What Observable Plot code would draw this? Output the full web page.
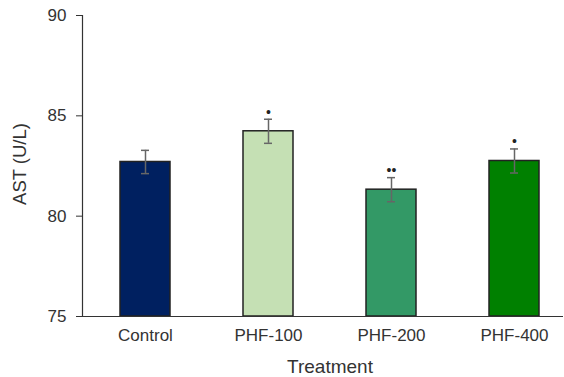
<!DOCTYPE html>
<html>
<head>
<meta charset="utf-8">
<script src="https://cdn.jsdelivr.net/npm/d3@7"></script>
<script src="https://cdn.jsdelivr.net/npm/@observablehq/plot@0.6"></script>
<style>
  html, body { margin: 0; padding: 0; background: #fff; }
  svg { font-family: "Liberation Sans", Arial, sans-serif; }
</style>
</head>
<body>
<div id="chart"></div>
<script>
const categories = ["Control", "PHF-100", "PHF-200", "PHF-400"];
const means = [82.7, 84.23, 81.32, 82.75];
const errors = [0.58, 0.6, 0.6, 0.6];
const significance = ["", "•", "••", "•"];
const colors = ["#002060", "#C5E0B4", "#339966", "#008000"];
const yTicks = [75, 80, 85, 90];

const data = categories.map((c, i) => ({
  cat: c, mean: means[i], err: errors[i], sig: significance[i], color: colors[i]
}));

const chart = Plot.plot({
  width: 564,
  height: 377,
  marginLeft: 82,
  marginRight: 1,
  marginTop: 15,
  marginBottom: 61,
  style: { fontFamily: "'Liberation Sans', Arial, sans-serif", color: "#333", background: "#fff" },
  x: { domain: categories, paddingInner: 0.5945, paddingOuter: 0.2476, align: 0.606, label: null },
  y: { domain: [75, 90], label: null },
  marks: [
    Plot.barY(data, { x: "cat", y1: 75, y2: "mean", fill: "color", stroke: "#222", strokeWidth: 1.5 }),
    Plot.ruleX(data, { x: "cat", y1: d => d.mean - d.err, y2: d => d.mean + d.err, stroke: "#666", strokeWidth: 1.5 }),
    Plot.tickY(data, { x: "cat", y: d => d.mean + d.err, stroke: "#666", strokeWidth: 1.5, inset: 21 }),
    Plot.tickY(data, { x: "cat", y: d => d.mean - d.err, stroke: "#666", strokeWidth: 1.5, inset: 21 }),
    Plot.text(data, { x: "cat", y: d => d.mean + d.err, text: "sig", dy: -7, fontSize: 14, fill: "#222" }),
    Plot.axisY({ ticks: yTicks, tickSize: 6, tickPadding: 10, fontSize: 17, stroke: "#333", label: null }),
    Plot.axisX({ tickSize: 0, tickPadding: 12, fontSize: 17, label: null }),
    Plot.frame({ anchor: "left", stroke: "#333", strokeWidth: 1.2 }),
    Plot.ruleY([75], { stroke: "#333", strokeWidth: 1.2 }),
    Plot.text(["AST (U/L)"], { frameAnchor: "left", textAnchor: "middle", dx: -62, dy: -2, rotate: -90, fontSize: 18.5, fill: "#333" }),
    Plot.text(["Treatment"], { frameAnchor: "bottom", dx: 7, dy: 56, fontSize: 19, fill: "#333" })
  ]
});
document.getElementById("chart").appendChild(chart);
</script>
</body>
</html>
